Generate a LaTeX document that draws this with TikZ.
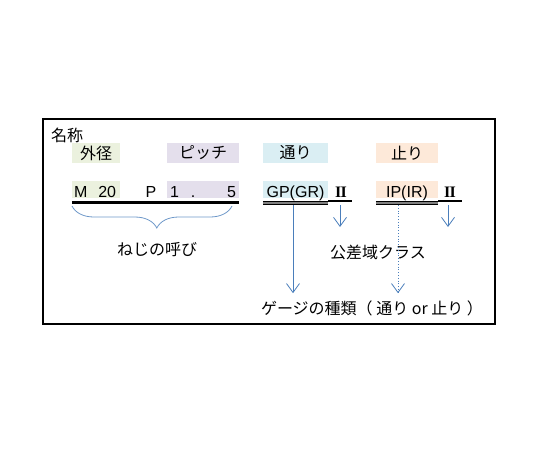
\documentclass[tikz,border=0pt]{standalone}
\usepackage{fontspec}
\setmainfont{Liberation Sans}
\newfontfamily\jp{Noto Sans CJK JP}
\newfontfamily\romanfont{Liberation Serif}
\usetikzlibrary{positioning, arrows.meta, decorations.pathreplacing}
\definecolor{gaikeifill}{HTML}{EBF1DE}
\definecolor{pitchfill}{HTML}{E4DFEC}
\definecolor{torifill}{HTML}{DAEEF3}
\definecolor{tomarifill}{HTML}{FDE9D9}
\definecolor{arrowblue}{HTML}{4A7EBB}
\newcommand{\classtwo}{{\romanfont\bfseries I\kern-0.6ptI}}
\tikzset{x=1pt, y=-1pt,
         >={Straight Barb[length=9pt,width=13pt]},
         every node/.style={inner sep=0pt, font=\fontsize{16}{19}\selectfont},
         jptext/.style={font=\fontsize{16}{19}\selectfont\jp},
         tag/.style={jptext, minimum height=20pt},
         code/.style={minimum height=17pt, text height=16pt, text depth=0pt, anchor=south},
         arr/.style={->, draw=arrowblue, line width=0.8pt},
         bar/.style={line width=3pt},
         }

\begin{document}
\begin{tikzpicture}
    \useasboundingbox (0,0) rectangle (540,450);
    \draw[line width=1.5pt] (43,119) rectangle (495,324);

    \node[jptext, anchor=west] (name) at (51,135) {名称};

    % upper row
    \node[tag, fill=gaikeifill, minimum width=48pt] (gaikei) at (96,153) {外径};
    \node[tag, fill=pitchfill, minimum width=72pt] (pitch) at (203,153) {ピッチ};
    \node[tag, fill=torifill, minimum width=65pt] (tori) at (295.5,153) {通り};
    \node[tag, fill=tomarifill, minimum width=62pt] (tomari) at (407,153) {止り};

    % code row
    \node[code, fill=gaikeifill, minimum width=48pt, text width=44pt] (m20) at (96,198) {M\hspace{11pt}20};
    \node[code] (p) at (151,198) {P};
    \node[code, fill=pitchfill, minimum width=72pt, text width=66pt] (pval) at (203,198) {1\hspace{12pt}.\hfill 5};
    \node[code, fill=torifill, minimum width=65pt] (gp) at (295.5,198) {GP(GR)};
    \node[code] (cls1) at (341,198) {\classtwo};
    \node[code, fill=tomarifill, minimum width=62pt] (ip) at (407,198) {IP(IR)};
    \node[code] (cls2) at (450,198) {\classtwo};

    % underlines
    \draw[bar] (m20.south west) ++(0,4) -- ([yshift=-4pt]pval.south east);
    \draw[line width=1pt, double=gray, double distance=1.2pt] ([yshift=-5pt]gp.south west) -- ([yshift=-5pt]gp.south east);
    \draw[line width=2.5pt] ([yshift=-3pt]gp.south east) -- ([xshift=11pt,yshift=-3pt]cls1.south);
    \draw[line width=1pt, double=gray, double distance=1.2pt] ([yshift=-5pt]ip.south west) -- ([yshift=-5pt]ip.south east);
    \draw[line width=2.5pt] ([yshift=-3pt]ip.south east) -- ([xshift=12pt,yshift=-3pt]cls2.south);

    % brace and labels
    \node[jptext] (yobi) at (157,250) {ねじの呼び};
    \node[jptext] (kousa) at (378,252) {公差域クラス};
    \node[jptext] (shurui) at (372,308) {ゲージの種類（ 通り or 止り ）};

    \coordinate (bl) at (72,206);
    \coordinate (br) at (232,206);
    \coordinate (c1) at (340,227);
    \coordinate (c2) at (448,227);
    \draw[draw=arrowblue!80, line width=0.8pt, decorate,
          decoration={brace, mirror, amplitude=22pt, aspect=0.53}] (bl) -- (br);

    \draw[arr] ([xshift=-2.5pt,yshift=-7pt]gp.south) -- ([xshift=-2.5pt,yshift=7pt]gp.south |- shurui.north);
    \draw[arr] ([xshift=-1pt,yshift=-7pt]cls1.south) -- (c1);
    \draw[arr, dotted] ([xshift=-9pt,yshift=-7pt]ip.south) -- ([xshift=-9pt,yshift=7pt]ip.south |- shurui.north);
    \draw[arr] ([xshift=-2pt,yshift=-7pt]cls2.south) -- (c2);
\end{tikzpicture}
\end{document}
